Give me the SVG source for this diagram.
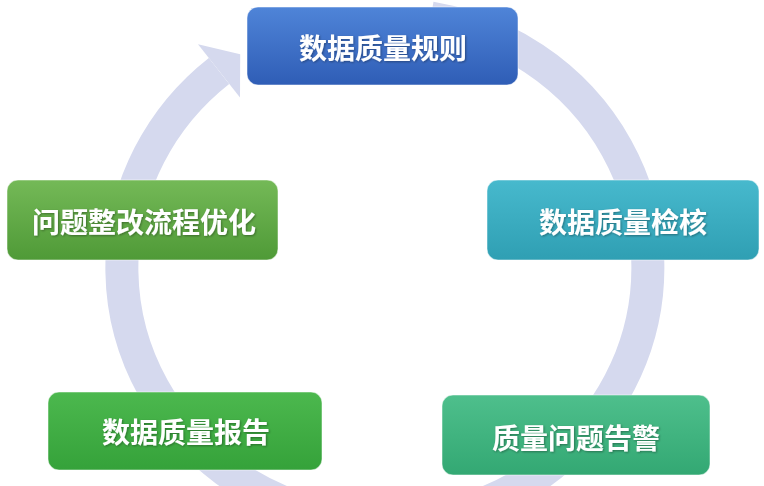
<svg xmlns="http://www.w3.org/2000/svg" width="764" height="486" viewBox="0 0 764 486">
  <defs>
    <linearGradient id="gBlue" x1="0" y1="0" x2="0" y2="1">
      <stop offset="0" stop-color="#4f84d8"/>
      <stop offset="1" stop-color="#2f5db6"/>
    </linearGradient>
    <linearGradient id="gTeal" x1="0" y1="0" x2="0" y2="1">
      <stop offset="0" stop-color="#47b9cd"/>
      <stop offset="1" stop-color="#2f9fb3"/>
    </linearGradient>
    <linearGradient id="gLeaf" x1="0" y1="0" x2="0" y2="1">
      <stop offset="0" stop-color="#74b957"/>
      <stop offset="1" stop-color="#4f9a37"/>
    </linearGradient>
    <linearGradient id="gGreen" x1="0" y1="0" x2="0" y2="1">
      <stop offset="0" stop-color="#4cb84e"/>
      <stop offset="1" stop-color="#35a23a"/>
    </linearGradient>
    <linearGradient id="gSea" x1="0" y1="0" x2="0" y2="1">
      <stop offset="0" stop-color="#4ebf8c"/>
      <stop offset="1" stop-color="#33a873"/>
    </linearGradient>
    <filter id="ts" x="-10%" y="-30%" width="120%" height="160%">
      <feDropShadow dx="1" dy="1" stdDeviation="0.8" flood-color="#000" flood-opacity="0.35"/>
    </filter>
  </defs>
  <style>
    .box { stroke: #ffffff; stroke-opacity: 0.5; stroke-width: 1; }
    .lbl { font-family: "Noto Sans CJK SC", "Noto Sans", sans-serif; font-weight: 700; font-size: 28px; fill: #ffffff; text-anchor: middle; dominant-baseline: central; filter: url(#ts); }
    .ring { fill: none; stroke: #d5d9ee; stroke-width: 33; }
    .head { fill: #d5d9ee; }
  </style>
  <rect width="764" height="486" fill="#ffffff"/>
  <g id="connectors">
    <path class="ring" d="M 430.7 17.9 A 263 254 0 1 1 219 70.9"/>
    <polygon class="head" points="198,44.2 240.2,54.2 240,97.6"/>
  </g>
  <g id="node-rules">
    <rect class="box" x="247" y="7" width="271" height="78" rx="11" fill="url(#gBlue)"/>
    <text class="lbl" x="383" y="47">数据质量规则</text>
  </g>
  <g id="node-check">
    <rect class="box" x="487" y="180" width="272" height="80" rx="11" fill="url(#gTeal)"/>
    <text class="lbl" x="623" y="221">数据质量检核</text>
  </g>
  <g id="node-optimize">
    <rect class="box" x="7" y="180" width="271" height="80" rx="11" fill="url(#gLeaf)"/>
    <text class="lbl" x="144" y="221">问题整改流程优化</text>
  </g>
  <g id="node-report">
    <rect class="box" x="48" y="392" width="274" height="78" rx="11" fill="url(#gGreen)"/>
    <text class="lbl" x="186" y="431">数据质量报告</text>
  </g>
  <g id="node-alert">
    <rect class="box" x="442" y="395" width="268" height="80" rx="11" fill="url(#gSea)"/>
    <text class="lbl" x="576" y="437">质量问题告警</text>
  </g>
</svg>
